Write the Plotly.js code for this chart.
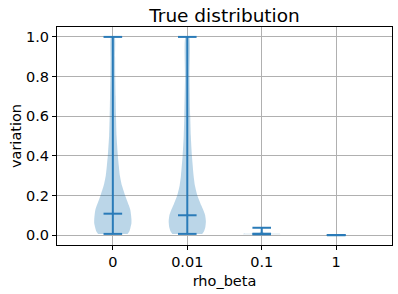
<!DOCTYPE html>
<html>
<head>
<meta charset="utf-8">
<script src="https://cdn.plot.ly/plotly-3.0.1.min.js"></script>
<style>html,body{margin:0;padding:0;background:#fff;}#chart{width:398px;height:294px;}</style>
</head>
<body>
<div id="chart"></div>
<script>
// Data
const categories = ["0", "0.01", "0.1", "1"];
const minVals  = [0.006, 0.006, 0.004, 0.0];
const meanVals = [0.108, 0.100, 0.007, 0.0];
const maxVals  = [1.0, 1.0, 0.037, 0.0];

// Density profiles (value levels, relative half-width, 1 = widest)
const levels0 = [0.006, 0.02, 0.035, 0.06, 0.08, 0.10, 0.126, 0.15, 0.175, 0.2, 0.25, 0.3, 0.35, 0.4, 0.5, 0.6, 0.7, 0.8, 0.9, 1.0];
const dens0   = [0.79, 0.89, 0.94, 1.0, 1.0, 0.98, 0.94, 0.86, 0.76, 0.66, 0.49, 0.38, 0.32, 0.27, 0.20, 0.17, 0.15, 0.13, 0.12, 0.10];
const levels1 = [0.006, 0.02, 0.04, 0.07, 0.10, 0.126, 0.15, 0.2, 0.25, 0.3, 0.4, 0.5, 0.6, 0.8, 1.0];
const dens1   = [0.80, 0.90, 0.97, 1.0, 0.96, 0.86, 0.75, 0.54, 0.41, 0.34, 0.25, 0.19, 0.16, 0.12, 0.10];
const levels2 = [0.004, 0.006, 0.008, 0.012, 0.02, 0.037];
const dens2   = [0.95, 1.0, 0.35, 0.10, 0.04, 0.02];
const levels3 = [];
const dens3   = [];

const levelSets = [levels0, levels1, levels2, levels3];
const densSets  = [dens0, dens1, dens2, dens3];

const HALF = 0.25;   // max half width of a violin (x units)
const CAP = 0.125;   // half width of the bars
const lineColor = "#2a7bb8";
const traces = [];

categories.forEach((c, i) => {
  const pos = i + 1;
  const lv = levelSets[i], dv = densSets[i];
  if (lv.length) {
    const xs = [], ys = [];
    for (let k = 0; k < lv.length; k++) { xs.push(pos + HALF * dv[k]); ys.push(lv[k]); }
    for (let k = lv.length - 1; k >= 0; k--) { xs.push(pos - HALF * dv[k]); ys.push(lv[k]); }
    traces.push({x: xs, y: ys, type: "scatter", mode: "lines", fill: "toself",
      fillcolor: "rgba(31,119,180,0.3)", line: {width: 0, shape: "spline", smoothing: 0.5}, hoverinfo: "skip"});
  }
  // vertical range line
  traces.push({x: [pos, pos], y: [minVals[i], maxVals[i]], type: "scatter", mode: "lines",
    line: {color: lineColor, width: 2}, hoverinfo: "skip"});
  [minVals[i], meanVals[i], maxVals[i]].forEach(v => {
    traces.push({x: [pos - CAP, pos + CAP], y: [v, v], type: "scatter", mode: "lines",
      line: {color: lineColor, width: 2}, hoverinfo: "skip"});
  });
});

const font = {family: "DejaVu Sans, sans-serif", color: "#000"};
const layout = {
  width: 398, height: 294,
  margin: {l: 57, r: 6, t: 27, b: 49, pad: 0},
  paper_bgcolor: "#fff", plot_bgcolor: "#fff",
  showlegend: false,
  font: {family: "DejaVu Sans, sans-serif", size: 14.5, color: "#000"},
  title: {text: "True distribution", font: Object.assign({}, font, {size: 18.5}),
    x: 0.5, xref: "paper", xanchor: "center", y: 1, yref: "paper", yanchor: "bottom", pad: {b: 5}},
  xaxis: {
    range: [0.25, 4.75], tickmode: "array", tickvals: categories.map((c, i) => i + 1), ticktext: categories,
    showgrid: true, gridcolor: "#b0b0b0", gridwidth: 1, zeroline: false,
    showline: true, mirror: true, linecolor: "#000", linewidth: 1,
    ticks: "outside", ticklen: 4, tickcolor: "#000", tickwidth: 1,
    tickfont: Object.assign({}, font, {size: 14.5}),
    title: {text: "rho_beta", font: Object.assign({}, font, {size: 14.5}), standoff: 6}
  },
  yaxis: {
    range: [-0.05, 1.05], tickmode: "array", tickvals: [0, 0.2, 0.4, 0.6, 0.8, 1.0],
    ticktext: ["0.0", "0.2", "0.4", "0.6", "0.8", "1.0"],
    showgrid: true, gridcolor: "#b0b0b0", gridwidth: 1, zeroline: false,
    showline: true, mirror: true, linecolor: "#000", linewidth: 1,
    ticks: "outside", ticklen: 4, tickcolor: "#000", tickwidth: 1,
    tickfont: Object.assign({}, font, {size: 14.5}),
    title: {text: "variation", font: Object.assign({}, font, {size: 14.5}), standoff: 0}
  }
};

Plotly.newPlot("chart", traces, layout, {displayModeBar: false, staticPlot: true});
</script>
</body>
</html>
